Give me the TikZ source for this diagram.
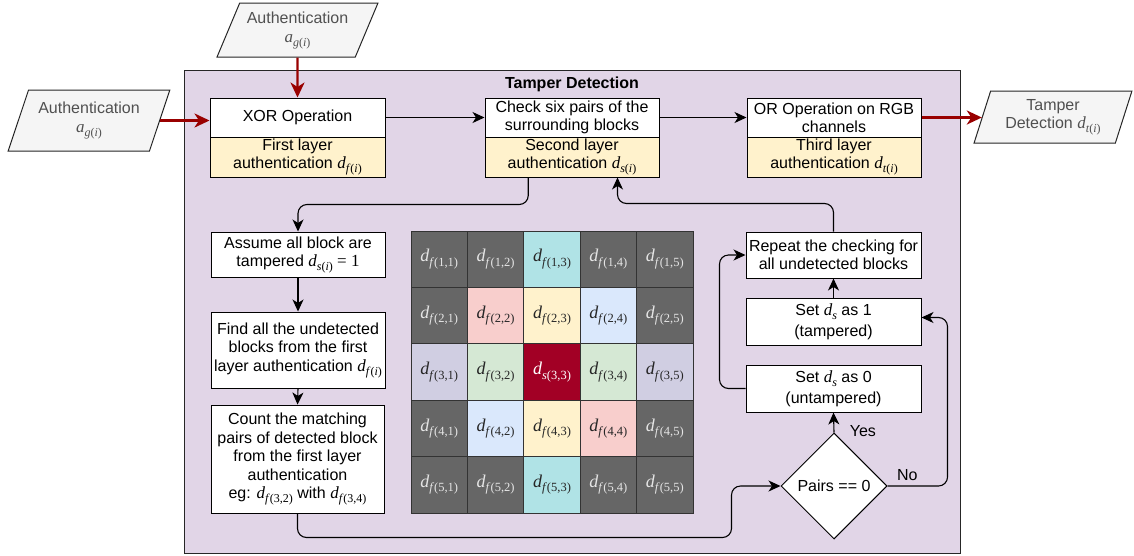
\documentclass[tikz,border=0pt]{standalone}
\usepackage{fontspec}
\setmainfont{Liberation Sans}
\newfontfamily\tms{Liberation Serif}
\usetikzlibrary{shapes.geometric,arrows.meta,calc}
\definecolor{framefill}{HTML}{E1D5E7}
\definecolor{ylw}{HTML}{FFF2CC}
\definecolor{iofill}{HTML}{F5F5F5}
\definecolor{iotext}{HTML}{505050}
\definecolor{darkred}{HTML}{990000}
\definecolor{dkgray}{HTML}{666666}
\definecolor{cellline}{HTML}{333333}
\definecolor{cyanc}{HTML}{B0E3E6}
\definecolor{pinkc}{HTML}{F8CECC}
\definecolor{bluec}{HTML}{DAE8FC}
\definecolor{lavc}{HTML}{D0CEE2}
\definecolor{greenc}{HTML}{D5E8D4}
\definecolor{redc}{HTML}{A20025}
% d with subscript (text boxes)
\newcommand{\dd}[1]{{\tms\fontsize{17}{17}\selectfont\itshape d}\raisebox{-4pt}{\tms\fontsize{12}{12}\selectfont #1}}
% d with subscript (grid cells)
\newcommand{\ddg}[2]{{\tms\fontsize{18}{18}\selectfont\itshape d}\raisebox{-4.5pt}{\tms\fontsize{12.5}{12.5}\selectfont\textit{#1}(#2)}}
\newcommand{\agi}{{\tms\fontsize{17}{17}\selectfont\itshape a}\raisebox{-4pt}{\tms\fontsize{12}{12}\selectfont\textit{g}(\textit{i})}}
\begin{document}
\begin{tikzpicture}[x=1pt,y=-1pt,
  font=\fontsize{16}{18}\selectfont,
  box/.style={draw=black,line width=1pt,fill=white,align=center,inner sep=0.5pt,minimum width=175pt},
  ybox/.style={box,fill=ylw},
  io/.style={trapezium,trapezium stretches=true,draw=black!85,fill=iofill,line width=1pt,text=iotext,align=center,inner sep=1pt},
  cell/.style={draw=cellline,line width=0.8pt,minimum width=56.4pt,minimum height=56.4pt,inner sep=0pt,text=black!85},
  dk/.style={cell,fill=dkgray,text=white!90!black},
  cy/.style={cell,fill=cyanc},
  pk/.style={cell,fill=pinkc},
  yl/.style={cell,fill=ylw},
  bl/.style={cell,fill=bluec},
  lv/.style={cell,fill=lavc},
  gr/.style={cell,fill=greenc},
  rd/.style={cell,fill=redc,text=white},
  arr/.style={-{Stealth[length=12pt,width=11pt,inset=3.5pt]},line width=1.1pt,rounded corners=9pt},
  redarr/.style={-{Stealth[length=15pt,width=14pt,inset=4.5pt]},line width=2.4pt,draw=darkred},
]
\useasboundingbox (0,0) rectangle (1134,555);

% outer frame
\node (frame) [draw=black!85,fill=framefill,line width=1.2pt,minimum width=776pt,minimum height=483pt,anchor=north west,inner sep=0pt] at (184,70) {};
\node (title) [font=\bfseries\fontsize{16}{18}\selectfont] at (572,84) {Tamper Detection};

% inputs / output
\node (auth1) [io,trapezium left angle=62.6,trapezium right angle=117.4,minimum width=161pt,minimum height=54pt] at (297.5,30) {Authentication\\[1pt]\agi};
\node (auth2) [io,trapezium left angle=66,trapezium right angle=114,minimum width=162pt,minimum height=61pt] at (89,120.5) {Authentication\\[1pt]\agi};
\node (tamper) [io,trapezium left angle=71,trapezium right angle=109,minimum width=158pt,minimum height=52pt] at (1053,117) {Tamper\\Detection \dd{\textit{t}(\textit{i})}};

% top row of process boxes
\node (xorT) [box,minimum height=39pt] at (297.5,117.5) {XOR Operation};
\node (xorB) [ybox,minimum height=40pt] at (297.5,157) {First layer\\authentication \dd{\textit{f}(\textit{i})}};
\node (chkT) [box,minimum width=174pt,minimum height=39pt] at (572,117.5) {Check six pairs of the\\surrounding blocks};
\node (chkB) [ybox,minimum width=174pt,minimum height=40pt] at (572,157) {Second layer\\authentication \dd{\textit{s}(\textit{i})}};
\node (orT) [box,minimum width=174pt,minimum height=39pt] at (834,117.5) {OR Operation on RGB\\channels};
\node (orB) [ybox,minimum width=174pt,minimum height=40pt] at (834,157) {Third layer\\authentication \dd{\textit{t}(\textit{i})}};

% left column
\node (assume) [box,minimum width=174pt,minimum height=45pt] at (298,254.5) {Assume all block are\\tampered \dd{\textit{s}(\textit{i})}{\tms\fontsize{17}{17}\selectfont\ =\ 1}};
\node (find) [box,minimum width=174pt,minimum height=76pt,font=\fontsize{16}{18.5}\selectfont] at (298,350) {Find all the undetected\\blocks from the first\\layer authentication \dd{\textit{f}(\textit{i})}};
\node (count) [box,minimum width=173pt,minimum height=108pt,font=\fontsize{16}{18.5}\selectfont] at (297.5,459) {Count the matching\\pairs of detected block\\from the first layer\\authentication\\eg: \dd{\textit{f}(3,2)} with \dd{\textit{f}(3,4)}};

% right column
\node (repeat) [box,minimum height=46pt] at (833.5,255) {Repeat the checking for\\all undetected blocks};
\node (set1) [box,minimum height=47pt] at (833.5,321.5) {Set \dd{\textit{s}} as 1\\[3pt](tampered)};
\node (set0) [box,minimum height=47pt] at (833.5,388.5) {Set \dd{\textit{s}} as 0\\[3pt](untampered)};
\node (pairs) [diamond,draw=black,line width=1pt,fill=white,minimum width=106pt,minimum height=106pt,inner sep=0pt] at (834,486) {Pairs == 0};

% grid
\foreach \r/\c/\st/\l in {
  1/1/dk/f,1/2/dk/f,1/3/cy/f,1/4/dk/f,1/5/dk/f,
  2/1/dk/f,2/2/pk/f,2/3/yl/f,2/4/bl/f,2/5/dk/f,
  3/1/lv/f,3/2/gr/f,3/3/rd/s,3/4/gr/f,3/5/lv/f,
  4/1/dk/f,4/2/bl/f,4/3/yl/f,4/4/pk/f,4/5/dk/f,
  5/1/dk/f,5/2/dk/f,5/3/cy/f,5/4/dk/f,5/5/dk/f}{
  \node (c\r\c) [\st] at ({411+56.4*(\c-0.5)},{231+56.4*(\r-0.5)}) {\ddg{\l}{\r,\c}};
}

% red connectors
\draw[redarr] (auth1.south) -- (xorT.north);
\draw[redarr] (auth2.east) -- (auth2.east -| xorT.west);
\draw[redarr] (orT.east) -- (orT.east -| tamper.west);

% black connectors
\coordinate (chkout) at ($(chkB.south west)!0.25!(chkB.south east)$);
\coordinate (chkin) at ($(chkB.south west)!0.76!(chkB.south east)$);
\draw[arr] (xorT.east) -- (chkT.west);
\draw[arr] (chkT.east) -- (orT.west);
\draw[arr] (chkout) -- ++(0,27) -| (assume.north);
\draw[arr] (repeat.north) -- ++(0,-28) -| (chkin);
\draw[arr] (assume.south) -- (find.north);
\draw[arr] (find.south) -- (count.north);
\draw[arr] (count.south) -- ++(0,24) -- ++(434,0) |- (pairs.west);
\draw[arr] (set1.north) -- (repeat.south);
\draw[arr] (pairs.north) -- node[pos=0.05,anchor=west,xshift=12pt] (yes) {Yes} (set0.south);
\draw[arr] (pairs.east) -- node[pos=0.33,above=1pt] (no) {No} ++(60,0) |- ($(set1.east)+(0,-4)$);
\draw[arr] (set0.west) -- ++(-26,0) |- (repeat.west);
\end{tikzpicture}
\end{document}
